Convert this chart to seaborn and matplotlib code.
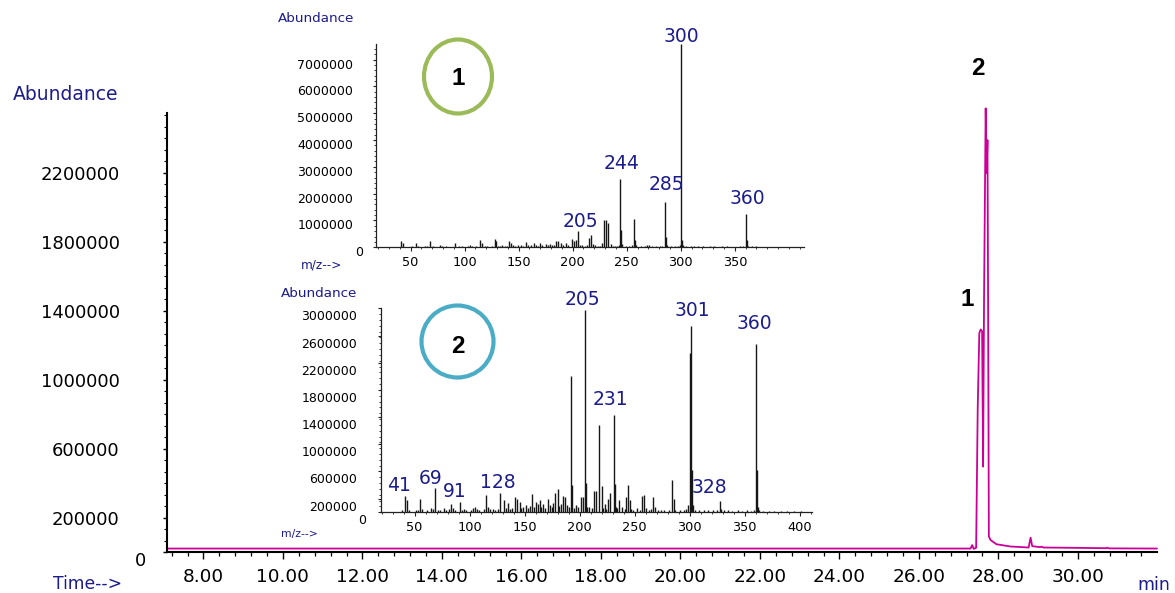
import matplotlib
matplotlib.use("Agg")
import matplotlib.pyplot as plt
import matplotlib.transforms as mtransforms
from matplotlib.patches import Ellipse
from matplotlib.ticker import MultipleLocator
import pandas as pd
import seaborn as sns

# ---------------------------------------------------------------- data
# Total ion chromatogram (retention time in min, abundance)
tic_time = [7.084, 10.0, 15.0, 20.0, 25.0, 27.30, 27.34, 27.38, 27.44, 27.48,
            27.52, 27.555, 27.59, 27.615, 27.64, 27.68, 27.705, 27.725, 27.74,
            27.76, 27.80, 27.95, 28.30, 28.76, 28.81, 28.85, 29.05, 29.09, 29.13,
            30.00, 30.70, 30.74, 30.78, 31.99]
tic_abundance = [20000, 20000, 20000, 20000, 20000, 20000, 40000, 18000, 25000, 840000,
                 1270000, 1290000, 1280000, 495000, 1500000, 2572000, 2197000, 2388000, 1500000,
                 90000, 70000, 45000, 32000, 26000, 83000, 34000, 28000, 31000, 26000,
                 24000, 22000, 25000, 21000, 20000]

peak_numbers = ["1", "2"]
peak_times = [27.555, 27.68]
peak_heights = [1290000, 2572000]

# Mass spectrum under peak 1
ms1_mz = [41, 43, 51, 55, 57, 63, 65, 68, 71, 77, 79, 83, 91, 95, 98, 103, 105, 107, 111,
          114, 116, 119, 121, 125, 128, 129, 131, 133, 135, 137, 139, 141, 143, 145, 147,
          149, 152, 154, 157, 159, 161, 164, 166, 168, 170, 172, 175, 177, 179, 181, 183,
          185, 186, 189, 191, 194, 196, 199, 201, 203, 205, 207, 209, 211, 213, 215, 217,
          219, 221, 223, 225, 227, 229, 231, 233, 235, 237, 239, 241, 243, 244, 245, 246,
          249, 252, 255, 257, 258, 259, 263, 267, 269, 271, 273, 277, 281, 283, 285, 286,
          287, 291, 295, 297, 299, 300, 301, 302, 305, 309, 312, 316, 321, 327, 331, 338,
          343, 349, 355, 358, 360, 361, 362, 366, 370, 375]
ms1_abundance = [240000, 170000, 40000, 150000, 50000, 30000, 50000, 240000, 40000, 70000,
                 50000, 30000, 170000, 40000, 30000, 50000, 90000, 40000, 30000,
                 270000, 170000, 50000, 40000, 50000, 300000, 250000, 60000, 50000, 70000,
                 40000, 60000, 240000, 170000, 80000, 60000,
                 70000, 90000, 60000, 210000, 90000, 70000, 150000, 80000, 60000, 170000,
                 80000, 110000, 70000, 120000, 80000, 100000,
                 240000, 240000, 170000, 90000, 150000, 80000, 300000, 250000, 270000,
                 610000, 100000, 80000, 60000, 90000, 340000, 460000,
                 120000, 70000, 50000, 60000, 150000, 1000000, 1030000, 920000, 120000,
                 50000, 40000, 60000, 100000, 2530000, 650000, 120000,
                 50000, 40000, 70000, 1070000, 270000, 70000, 40000, 30000, 90000, 80000,
                 40000, 30000, 40000, 60000, 1700000, 400000,
                 80000, 30000, 30000, 40000, 80000, 7570000, 270000, 100000, 30000, 30000,
                 50000, 30000, 30000, 40000, 30000, 30000,
                 30000, 20000, 30000, 40000, 1240000, 270000, 60000, 30000, 50000, 20000]
ms1_labels = [205, 244, 285, 300, 360]

# Mass spectrum under peak 2
ms2_mz = [39, 41, 43, 45, 51, 53, 55, 57, 61, 65, 67, 69, 71, 73, 77, 79, 81, 83, 85, 87,
          91, 93, 95, 97, 101, 103, 105, 107, 109, 113, 115, 117, 119, 121, 123, 126, 128,
          131, 133, 135, 137, 139, 141, 143, 146, 147, 149, 151, 153, 155, 157, 159, 160,
          162, 164, 165, 167, 169, 171, 173, 175, 176, 178, 180, 181, 183, 185, 187, 189,
          190, 192, 193, 195, 197, 199, 201, 203, 205, 206, 207, 209, 211, 213, 215, 218,
          220, 221, 223, 224, 226, 228, 231, 232, 233, 234, 236, 239, 241, 242, 244, 246,
          247, 249, 252, 255, 257, 259, 260, 263, 265, 267, 269, 271, 274, 277, 281, 284,
          286, 287, 291, 295, 297, 299, 300, 301, 302, 303, 305, 309, 313, 317, 321, 325,
          328, 329, 331, 335, 339, 344, 348, 352, 356, 359, 360, 361, 362, 363, 367, 372,
          377, 383, 389, 395, 401]
ms2_abundance = [30000, 240000, 180000, 30000, 30000, 40000, 190000, 50000, 40000, 60000,
                 50000, 350000, 40000, 30000, 70000, 40000, 50000, 120000, 60000, 30000,
                 155000, 40000, 50000, 30000, 40000, 60000, 80000, 50000, 30000, 50000,
                 250000, 80000, 50000, 50000, 40000, 50000, 280000,
                 180000, 60000, 130000, 50000, 70000, 230000, 190000, 155000, 60000, 80000,
                 110000, 70000, 90000, 270000, 80000, 155000,
                 120000, 180000, 80000, 120000, 70000, 190000, 100000, 80000, 140000, 280000,
                 340000, 90000, 120000, 240000, 230000, 100000,
                 80000, 2000000, 400000, 70000, 100000, 80000, 220000, 230000, 2970000,
                 430000, 80000, 80000, 60000, 310000, 320000, 1290000,
                 380000, 70000, 120000, 50000, 200000, 280000, 1430000, 420000, 80000, 60000,
                 180000, 80000, 50000, 230000, 400000, 180000,
                 50000, 40000, 60000, 40000, 240000, 250000, 60000, 40000, 50000, 220000,
                 80000, 40000, 30000, 40000, 30000, 470000,
                 200000, 40000, 30000, 40000, 50000, 110000, 2340000, 2740000, 620000, 100000,
                 40000, 30000, 40000, 30000, 30000, 30000,
                 165000, 50000, 30000, 30000, 20000, 30000, 20000, 30000, 20000, 40000,
                 2480000, 620000, 80000, 40000, 20000, 20000,
                 20000, 20000, 20000, 20000, 20000]
ms2_labels = [41, 69, 91, 128, 205, 231, 301, 328, 360]

# Axis ticks
main_xticks = [8, 10, 12, 14, 16, 18, 20, 22, 24, 26, 28, 30]
main_yticks = [0, 200000, 600000, 1000000, 1400000, 1800000, 2200000]
ms1_xticks = [50, 100, 150, 200, 250, 300, 350]
ms1_yticks = [0, 1000000, 2000000, 3000000, 4000000, 5000000, 6000000, 7000000]
ms2_xticks = [50, 100, 150, 200, 250, 300, 350, 400]
ms2_yticks = [0, 200000, 600000, 1000000, 1400000, 1800000, 2200000, 2600000, 3000000]

# ---------------------------------------------------------------- style
W, H = 1175, 593
NAVY = "#1c1c8c"
PINK = "#cc0099"
STICK = "#161616"

sns.set_theme(style="ticks")
plt.rcParams["font.family"] = ["DejaVu Sans"]

fig = plt.figure(figsize=(W / 100, H / 100), dpi=100)
fig.patch.set_facecolor("white")


def px_axes(left, top, right, bottom):
    """Axes placed by pixel edges measured from the top-left corner."""
    return fig.add_axes([left / W, 1 - bottom / H, (right - left) / W, (bottom - top) / H])


def ftext(x, y, s, **kw):
    fig.text(x / W, 1 - y / H, s, **kw)


def shift_ylabels(ax, dy_px, zero_dx_px, zero_dy_px):
    """Nudge the y tick labels in pixels (positive dy moves down)."""
    locs = ax.get_yticks()
    for loc, tick in zip(locs, ax.yaxis.get_major_ticks()):
        dx = zero_dx_px if loc == 0 else 0
        dy = zero_dy_px if loc == 0 else dy_px
        off = mtransforms.ScaledTranslation(dx / 100, -dy / 100, fig.dpi_scale_trans)
        tick.label1.set_transform(tick.label1.get_transform() + off)


def style_axes(ax, lw, color):
    for side in ("top", "right"):
        ax.spines[side].set_visible(False)
    for side in ("left", "bottom"):
        ax.spines[side].set_linewidth(lw)
        ax.spines[side].set_color(color)
    ax.grid(False)


# ---------------------------------------------------------------- chromatogram
ax = px_axes(167, 113, 1157, 552)
ax.set_facecolor("white")
tic = pd.DataFrame({"time": tic_time, "abundance": tic_abundance})
sns.lineplot(data=tic, x="time", y="abundance", ax=ax, color=PINK, linewidth=1.3,
             estimator=None, sort=False, clip_on=False)
ax.set_xlim(7.084, 31.99)
ax.set_ylim(0, 2545000)
ax.set_xlabel("")
ax.set_ylabel("")
style_axes(ax, 1.5, "black")

ax.set_xticks(main_xticks, labels=[f"{t:.2f}" for t in main_xticks])
ax.xaxis.set_minor_locator(MultipleLocator(0.4))
ax.set_yticks(main_yticks, labels=[str(v) for v in main_yticks])
ax.yaxis.set_minor_locator(MultipleLocator(400000 / 6))
ax.tick_params(axis="x", which="major", direction="out", length=5, width=1.0,
               color="black", labelsize=13.3, labelcolor="black", pad=6.5)
ax.tick_params(axis="x", which="minor", direction="out", length=3, width=0.9, color="black")
ax.tick_params(axis="y", which="major", direction="out", length=3, width=1.0,
               color="black", labelsize=13, labelcolor="black", pad=31)
ax.tick_params(axis="y", which="minor", direction="out", length=2, width=0.8, color="black")
shift_ylabels(ax, 0, 26, 7)

ftext(13, 100, "Abundance", color=NAVY, fontsize=13.5, ha="left", va="baseline")
ftext(53, 589, "Time-->", color=NAVY, fontsize=12.3, ha="left", va="baseline")
ftext(1137, 590, "min", color=NAVY, fontsize=12.5, ha="left", va="baseline")

# peak numbers above the two chromatographic peaks (pixel offsets to label baseline)
num_offsets = [(-13.7, 23.3), (-7.4, 33.3)]
for num, t, h, (dx, dy) in zip(peak_numbers, peak_times, peak_heights, num_offsets):
    ax.annotate(num, xy=(t, h), xytext=(dx * 0.72, dy * 0.72), textcoords="offset points",
                ha="center", va="baseline", fontsize=17.5, fontweight="bold",
                family=["Liberation Sans", "DejaVu Sans"], color="black",
                annotation_clip=False)


# ---------------------------------------------------------------- spectra
def draw_spectrum(box, mz, ab, xlim, ylim, xticks, yticks, labels, label_offsets,
                  label_dy, zero_dx, ypad, ab_xy, mz_xy, mz_size):
    sax = px_axes(*box)
    sax.set_facecolor("none")
    sax.vlines(mz, 0, ab, colors=STICK, linewidth=1.0)
    sax.set_xlim(*xlim)
    sax.set_ylim(*ylim)
    style_axes(sax, 0.9, "#222222")
    sax.set_xticks(xticks, labels=[str(v) for v in xticks])
    sax.xaxis.set_minor_locator(MultipleLocator(10))
    sax.set_yticks(yticks, labels=[str(v) for v in yticks])
    sax.yaxis.set_minor_locator(MultipleLocator(yticks[-1] / 35))
    sax.tick_params(axis="x", which="major", direction="out", length=3, width=0.8,
                    color="#222222", labelsize=9.3, labelcolor="black", pad=3.6)
    sax.tick_params(axis="x", which="minor", direction="out", length=1.5, width=0.6,
                    color="#222222")
    sax.tick_params(axis="y", which="major", direction="out", length=2, width=0.8,
                    color="#222222", labelsize=9, labelcolor="black", pad=ypad)
    sax.tick_params(axis="y", which="minor", direction="out", length=1.2, width=0.6,
                    color="#222222")
    shift_ylabels(sax, label_dy, zero_dx, label_dy)

    heights = dict(zip(mz, ab))
    for m, (dx, dy) in zip(labels, label_offsets):
        sax.annotate(str(m), xy=(m, heights[m]), xytext=(dx * 0.72, dy * 0.72),
                     textcoords="offset points", ha="center", va="baseline",
                     fontsize=13.5, color=NAVY, annotation_clip=False)

    ftext(ab_xy[0], ab_xy[1], "Abundance", color=NAVY, fontsize=9.7, ha="left", va="baseline")
    ftext(mz_xy[0], mz_xy[1], "m/z-->", color=NAVY, fontsize=mz_size, ha="left", va="baseline")
    return sax


draw_spectrum((376.5, 44.3, 804, 247.3), ms1_mz, ms1_abundance, (18.5, 414), (0, 7570000),
              ms1_xticks, ms1_yticks, ms1_labels,
              [(2, 4.2), (1, 10.2), (2, 12.2), (1, 2.5), (2, 10.5)],
              4, 10, 14.8, (278, 21.7), (301, 268), 8.7)

draw_spectrum((381, 308.3, 811.7, 512.3), ms2_mz, ms2_abundance, (19.5, 411), (0, 2970000),
              ms2_xticks, ms2_yticks, ms2_labels,
              [(-5.5, 5.2), (-4.6, 4.9), (-5, 4.9), (-3, 4.9), (-2.5, 5.2), (-3.3, 9.9),
               (1.6, 10.2), (-11.4, 8.2), (-1.6, 14.2)],
              7, 9, 15.1, (281, 297), (281, 536.5), 7.8)

# ---------------------------------------------------------------- spectrum badges
badges = [("1", 458, 76.5, 68, 74, "#9bbb59", 85.3),
          ("2", 457.5, 341.5, 72, 72, "#4bacc6", 352.7)]
for num, cx, cy, w, h, col, base in badges:
    fig.add_artist(Ellipse((cx / W, 1 - cy / H), w / W, h / H, transform=fig.transFigure,
                           facecolor="none", edgecolor=col, linewidth=3.0))
    ftext(cx, base, num, color="black", fontsize=17.5, fontweight="bold",
          family=["Liberation Sans", "DejaVu Sans"], ha="center", va="baseline")

fig.savefig("out.png", dpi=100)
